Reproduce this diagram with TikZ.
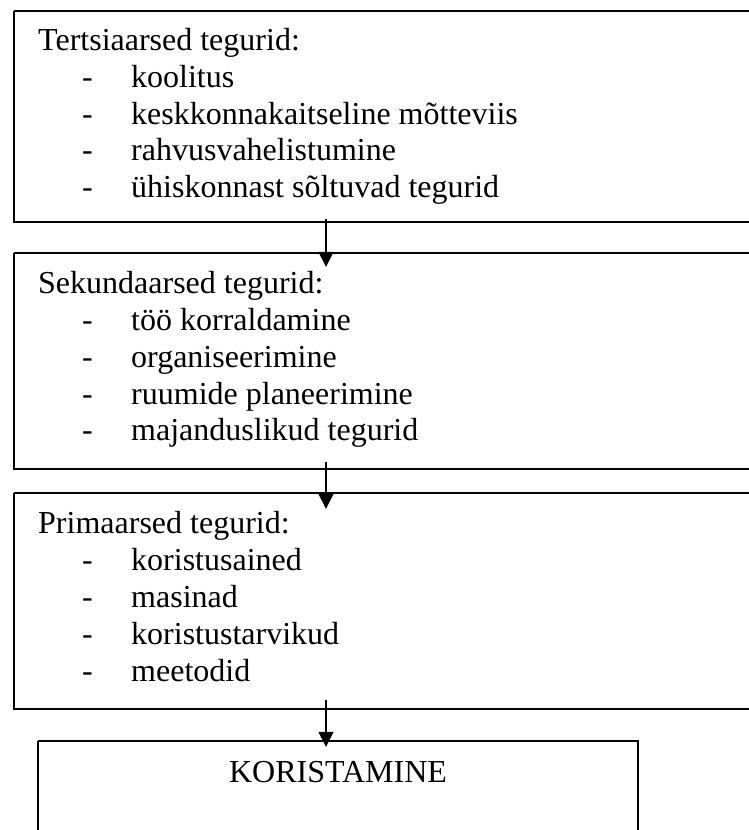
\documentclass[tikz,border=0pt]{standalone}
\usepackage{fontspec}
\setmainfont{Liberation Serif}
\usetikzlibrary{arrows.meta}
\tikzstyle{vertex}=[inner sep=0pt,minimum size=0pt]
\newcommand{\vertex}{\node[vertex]}
\tikzstyle{txt}=[anchor=base west,inner sep=0pt,font=\fontsize{32}{37}\selectfont]
\tikzstyle{boxline}=[line width=1.4pt,line cap=rect]
\tikzstyle{arr}=[line width=1.4pt,-{Triangle[length=15pt,width=15pt]}]

\begin{document}
\begin{tikzpicture}[x=1pt,y=-1pt]
		\clip (0,0) rectangle (749,830);
		% % % % % % % % % % % % % % % % % % % % % % % % % % % % %
		\node[txt] (h1) at (38,50) {Tertsiaarsed tegurid:};
		\node[txt] (m11) at (82,87) {-};
		\node[txt] (m12) at (82,124) {-};
		\node[txt] (m13) at (82,160) {-};
		\node[txt] (m14) at (82,197) {-};
		\node[txt] (k11) at (131,87) {koolitus};
		\node[txt] (k12) at (131,124) {keskkonnakaitseline mõtteviis};
		\node[txt] (k13) at (131,160) {rahvusvahelistumine};
		\node[txt] (k14) at (131,197) {ühiskonnast sõltuvad tegurid};
		%***********************
		\node[txt] (h2) at (38,293) {Sekundaarsed tegurid:};
		\node[txt] (m21) at (82,330) {-};
		\node[txt] (m22) at (82,367) {-};
		\node[txt] (m23) at (82,404) {-};
		\node[txt] (m24) at (82,440) {-};
		\node[txt] (k21) at (131,330) {töö korraldamine};
		\node[txt] (k22) at (131,367) {organiseerimine};
		\node[txt] (k23) at (131,404) {ruumide planeerimine};
		\node[txt] (k24) at (131,440) {majanduslikud tegurid};
		%***********************
		\node[txt] (h3) at (38,533) {Primaarsed tegurid:};
		\node[txt] (m31) at (82,570) {-};
		\node[txt] (m32) at (82,607) {-};
		\node[txt] (m33) at (82,644) {-};
		\node[txt] (m34) at (82,681) {-};
		\node[txt] (k31) at (131,570) {koristusained};
		\node[txt] (k32) at (131,607) {masinad};
		\node[txt] (k33) at (131,644) {koristustarvikud};
		\node[txt] (k34) at (131,681) {meetodid};
		%***********************
		\node[txt,anchor=base] (h4) at (338,782) {KORISTAMINE};
		% % % % % % % % % % % % % % % % % % % % % % % % % % % % %
		\vertex (a1) at (14,11) {};
		\vertex (a2) at (760,11) {};
		\vertex (a3) at (760,222) {};
		\vertex (a4) at (14,222) {};
		%********************
		\vertex (b1) at (14,253) {};
		\vertex (b2) at (760,253) {};
		\vertex (b3) at (760,469) {};
		\vertex (b4) at (14,469) {};
		%********************
		\vertex (c1) at (14,493) {};
		\vertex (c2) at (760,493) {};
		\vertex (c3) at (760,709) {};
		\vertex (c4) at (14,709) {};
		%********************
		\vertex (e1) at (38,741) {};
		\vertex (e2) at (638,741) {};
		\vertex (e3) at (638,845) {};
		\vertex (e4) at (38,845) {};
		%********************
		\vertex (d1) at (326,219) {};
		\vertex (d2) at (326,267) {};
		\vertex (d3) at (326,462) {};
		\vertex (d4) at (326,509) {};
		\vertex (d5) at (326,700) {};
		\vertex (d6) at (326,747) {};
		%***************
		
		\path[boxline]
		%**************
		(a1) edge [] (a2)
		(a1) edge [] (a4)
		(a4) edge [] (a3)
		%**************
		(b1) edge [] (b2)
		(b1) edge [] (b4)
		(b4) edge [] (b3)
		%**************
		(c1) edge [] (c2)
		(c1) edge [] (c4)
		(c4) edge [] (c3)
		%**************
		(e1) edge [] (e2)
		(e1) edge [] (e4)
		(e2) edge [] (e3)
		;
		\path
		%********************
		(d1) edge [arr] (d2)
		(d3) edge [arr] (d4)
		(d5) edge [arr] (d6)
		;
\end{tikzpicture}
\end{document}
